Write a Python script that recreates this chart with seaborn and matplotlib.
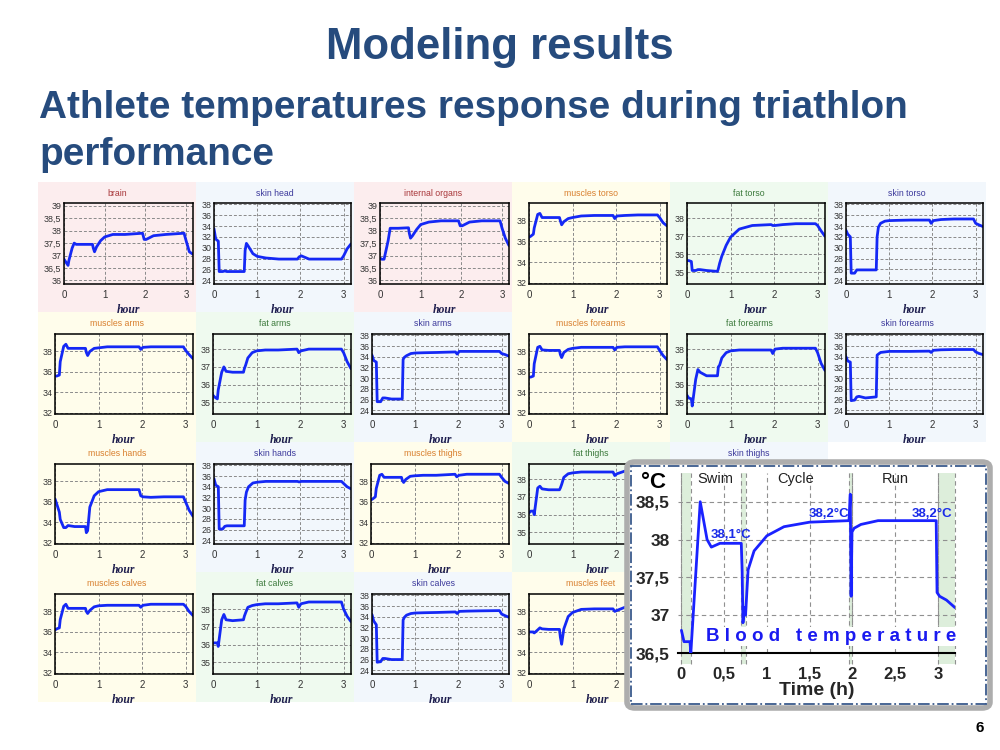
import matplotlib
matplotlib.use("Agg")
import matplotlib.pyplot as plt
import seaborn as sns
from matplotlib.patches import Rectangle, FancyBboxPatch
from matplotlib.ticker import FuncFormatter, MultipleLocator

sns.set_style("white")
plt.rcParams['font.family'] = ['Liberation Sans', 'DejaVu Sans']

# ---------------- data ----------------
hour = [0.0, 0.04, 0.1, 0.12, 0.2, 0.25, 0.3, 0.45, 0.7, 0.72, 0.75, 0.8, 0.9,
        1.0, 1.2, 1.5, 1.93, 1.97, 2.02, 2.2, 2.5, 2.95, 3.0, 3.08, 3.17]
hour_ticks = [0, 1, 2, 3]

brain = [36.85, 36.75, 36.6, 36.8, 37.3, 37.5, 37.45, 37.45, 37.45, 37.3, 37.15, 37.35, 37.6,
         37.75, 37.85, 37.85, 37.9, 37.65, 37.65, 37.8, 37.85, 37.9, 37.6, 37.15, 37.05]
skin_head = [33.5, 31.6, 31.2, 25.6, 25.6, 25.7, 25.6, 25.6, 25.6, 29.5, 30.8, 30.2, 28.9,
             28.4, 28.1, 27.9, 27.9, 28.3, 28.5, 27.9, 27.9, 27.9, 28.5, 29.8, 30.7]
internal_organs = [36.9, 36.85, 36.85, 37.0, 37.6, 38.1, 38.1, 38.1, 38.12, 37.9, 37.7, 37.8, 38.05,
                   38.25, 38.35, 38.4, 38.4, 38.2, 38.2, 38.35, 38.4, 38.4, 38.1, 37.7, 37.4]
muscles_torso = [36.4, 36.5, 36.7, 37.3, 38.6, 38.7, 38.3, 38.3, 38.3, 38.0, 37.6, 37.9, 38.2,
                 38.3, 38.45, 38.5, 38.5, 38.2, 38.45, 38.5, 38.55, 38.55, 38.3, 37.8, 37.5]
fat_torso = [35.65, 35.65, 35.6, 35.1, 35.1, 35.15, 35.15, 35.1, 35.05, 35.2, 35.5, 35.9, 36.5,
             36.95, 37.4, 37.6, 37.65, 37.6, 37.6, 37.65, 37.7, 37.7, 37.6, 37.3, 37.0]
skin_torso = [33.2, 32.5, 32.0, 25.3, 25.3, 25.9, 25.9, 25.9, 25.9, 32.0, 33.8, 34.5, 34.9,
              35.0, 35.05, 35.1, 35.1, 34.5, 35.0, 35.2, 35.3, 35.3, 34.5, 34.2, 33.9]
muscles_arms = [35.6, 35.6, 35.7, 37.0, 38.5, 38.7, 38.3, 38.3, 38.3, 37.9, 37.6, 38.0, 38.3,
                38.35, 38.45, 38.45, 38.45, 38.2, 38.4, 38.45, 38.45, 38.45, 38.1, 37.7, 37.3]
fat_arms = [35.4, 35.3, 35.2, 35.7, 36.7, 37.0, 36.75, 36.7, 36.7, 36.9, 37.1, 37.5, 37.8,
            37.9, 37.95, 37.95, 38.0, 37.8, 37.9, 38.0, 38.0, 38.0, 37.8, 37.3, 36.9]
skin_arms = [34.3, 33.3, 33.0, 25.6, 25.6, 26.3, 26.3, 26.1, 26.1, 33.5, 33.9, 34.2, 34.6,
             34.7, 34.75, 34.8, 34.9, 34.5, 35.0, 35.0, 35.0, 35.0, 34.6, 34.4, 34.1]
muscles_forearms = [35.5, 35.5, 35.6, 36.8, 38.4, 38.5, 38.15, 38.1, 38.1, 37.7, 37.4, 37.9, 38.2,
                    38.3, 38.4, 38.4, 38.4, 38.15, 38.4, 38.45, 38.45, 38.45, 38.1, 37.6, 37.2]
fat_forearms = [35.4, 35.25, 35.2, 34.8, 36.3, 36.85, 36.7, 36.5, 36.5, 37.0, 37.1, 37.5, 37.8,
                37.9, 37.95, 37.95, 37.95, 37.75, 38.0, 38.05, 38.05, 38.05, 37.8, 37.2, 36.8]
skin_forearms = [34.0, 33.2, 33.0, 25.8, 25.9, 26.5, 26.6, 26.3, 26.5, 34.3, 34.5, 34.8, 34.9,
                 35.0, 35.0, 35.0, 35.05, 34.8, 35.2, 35.3, 35.35, 35.35, 34.9, 34.6, 34.4]
muscles_hands = [36.3, 35.8, 35.0, 34.3, 33.5, 33.5, 33.7, 33.6, 33.6, 33.0, 33.2, 35.5, 36.6,
                 37.0, 37.2, 37.2, 37.2, 36.6, 36.5, 36.45, 36.5, 36.5, 36.0, 35.2, 34.6]
skin_hands = [35.5, 34.3, 34.0, 26.1, 26.1, 26.6, 26.7, 26.7, 26.7, 31.5, 33.0, 34.0, 34.7,
              34.85, 35.0, 35.0, 35.0, 34.9, 35.0, 35.0, 35.0, 35.0, 34.6, 34.0, 33.6]
muscles_thighs = [36.2, 36.3, 36.5, 37.3, 38.6, 38.7, 38.4, 38.4, 38.4, 38.1, 37.9, 38.2, 38.5,
                  38.55, 38.6, 38.6, 38.7, 38.45, 38.6, 38.7, 38.7, 38.7, 38.4, 38.0, 37.8]
fat_thighs = [36.1, 36.2, 36.2, 36.0, 37.5, 37.6, 37.45, 37.4, 37.4, 37.5, 37.7, 38.1, 38.3,
              38.35, 38.4, 38.4, 38.4, 38.2, 38.3, 38.45, 38.5, 38.5, 38.2, 37.8, 37.5]
skin_thighs = [34.3, 33.2, 32.6, 25.6, 25.7, 26.2, 26.2, 26.0, 26.0, 33.4, 33.9, 34.3, 34.6,
               34.7, 34.75, 34.8, 34.9, 34.6, 35.0, 35.05, 35.1, 35.1, 34.5, 34.2, 33.9]
muscles_calves = [36.2, 36.3, 36.4, 37.2, 38.5, 38.7, 38.3, 38.3, 38.3, 38.0, 37.8, 38.1, 38.45,
                  38.55, 38.6, 38.6, 38.6, 38.4, 38.6, 38.7, 38.7, 38.7, 38.5, 38.0, 37.6]
fat_calves = [36.1, 36.1, 36.1, 35.9, 37.4, 37.7, 37.4, 37.35, 37.4, 37.6, 37.8, 38.1, 38.2,
              38.25, 38.3, 38.3, 38.35, 38.1, 38.3, 38.4, 38.4, 38.4, 38.0, 37.6, 37.3]
skin_calves = [34.4, 33.2, 32.5, 25.5, 25.6, 26.2, 26.2, 26.0, 26.0, 33.4, 33.9, 34.3, 34.6,
               34.7, 34.75, 34.8, 34.9, 34.6, 35.0, 35.05, 35.1, 35.15, 34.5, 34.2, 33.9]
muscles_feet = [36.0, 36.0, 36.0, 35.9, 36.2, 36.4, 36.3, 36.25, 36.25, 35.5, 34.8, 36.3, 37.5,
                37.9, 38.2, 38.25, 38.25, 38.0, 38.1, 38.4, 38.5, 38.5, 38.2, 37.8, 37.5]

blood_hour = [0.0, 0.03, 0.1, 0.11, 0.22, 0.3, 0.35, 0.45, 0.7, 0.71, 0.72, 0.735, 0.75, 0.78,
              0.85, 1.0, 1.2, 1.5, 1.96, 1.975, 1.985, 1.995, 2.02, 2.1, 2.3, 2.98, 2.99, 3.02,
              3.1, 3.2]
blood_temp = [36.8, 36.65, 36.65, 36.5, 38.5, 38.0, 37.9, 37.95, 37.95, 37.6, 36.9, 37.1, 37.0,
              37.6, 37.85, 38.05, 38.17, 38.23, 38.25, 38.6, 37.25, 38.1, 38.15, 38.2, 38.25,
              38.25, 37.3, 37.25, 37.2, 37.1]
time_ticks = [0, 0.5, 1, 1.5, 2, 2.5, 3]
blood_ticks = [36.5, 37, 37.5, 38, 38.5]

stage_labels = ["Swim", "Cycle", "Run"]
stage_pos = [0.4, 1.33, 2.5]
transition_spans = [(0.0, 0.11), (0.7, 0.76), (1.96, 2.0), (3.0, 3.2)]
plateau_labels = ["38,1°C", "38,2°C", "38,2°C"]
plateau_pos = [(0.58, 38.06), (1.73, 38.34), (2.93, 38.34)]

panels = [
    [("brain", "core", brain), ("skin head", "skin", skin_head),
     ("internal organs", "core", internal_organs), ("muscles torso", "muscle", muscles_torso),
     ("fat torso", "fat", fat_torso), ("skin torso", "skin", skin_torso)],
    [("muscles arms", "muscle", muscles_arms), ("fat arms", "fat", fat_arms),
     ("skin arms", "skin", skin_arms), ("muscles forearms", "muscle", muscles_forearms),
     ("fat forearms", "fat", fat_forearms), ("skin forearms", "skin", skin_forearms)],
    [("muscles hands", "muscle", muscles_hands), ("skin hands", "skin", skin_hands),
     ("muscles thighs", "muscle", muscles_thighs), ("fat thighs", "fat", fat_thighs),
     ("skin thighs", "skin", skin_thighs), None],
    [("muscles calves", "muscle", muscles_calves), ("fat calves", "fat", fat_calves),
     ("skin calves", "skin", skin_calves), ("muscles feet", "muscle", muscles_feet), None, None],
]

# ---------------- styles ----------------
styles = {
    "core":   dict(bg="#FCEDEE", tc="#A8373A", ylim=(35.85, 39.12), ticks=[36, 36.5, 37, 37.5, 38, 38.5, 39], off=26),
    "skin":   dict(bg="#F2F7FC", tc="#3D3A9C", ylim=(23.3, 38.25), ticks=[24, 26, 28, 30, 32, 34, 36, 38], off=18),
    "muscle": dict(bg="#FFFDEB", tc="#D9802F", ylim=(31.9, 39.7), ticks=[32, 34, 36, 38], off=17),
    "fat":    dict(bg="#EFFAEF", tc="#3C7A3C", ylim=(34.35, 38.85), ticks=[35, 36, 37, 38], off=17),
}
line_color = "#1428F5"
W, H = 1000, 750

# inset box in pixels
INSET = (627, 462, 990, 708)


def fr(x0, y0, x1, y1):
    return [x0 / W, 1 - y1 / H, (x1 - x0) / W, (y1 - y0) / H]


comma = FuncFormatter(lambda v, p: ('%g' % v).replace('.', ','))

fig = plt.figure(figsize=(10, 7.5), dpi=100)
fig.patch.set_facecolor("white")

title_c = "#264B7D"
fig.text(0.5, 1 - 48 / H, "Modeling results", ha="center", va="center",
         fontsize=31.5, fontweight="bold", color=title_c)
fig.text(39 / W, 1 - 108 / H, "Athlete temperatures response during triathlon",
         ha="left", va="center", fontsize=27.9, fontweight="bold", color=title_c)
fig.text(39 / W, 1 - 155 / H, "performance", ha="left", va="center",
         fontsize=27.9, fontweight="bold", color=title_c)
fig.text(980 / W, 1 - 728 / H, "6", ha="center", va="center", fontsize=11,
         fontweight="bold", color="black")

cell_x = [38, 196, 354, 512, 670, 828]
cell_w = 158
row_y = [182, 312, 442, 572]
row_h = 130

for r, row in enumerate(panels):
    for c, p in enumerate(row):
        x0, y0 = cell_x[c], row_y[r]
        if p is None:
            continue
        name, kind, vals = p
        st = styles[kind]
        fig.add_artist(Rectangle((x0 / W, 1 - (y0 + row_h) / H), cell_w / W, row_h / H,
                                 transform=fig.transFigure, facecolor=st["bg"],
                                 edgecolor="none", zorder=-5))
        top = y0 + (21 if r == 0 else 22)
        left, right, bottom = x0 + st["off"], x0 + 155, y0 + 102
        ax = fig.add_axes(fr(left, top, right, bottom))
        ax.set_facecolor(st["bg"])
        sns.lineplot(x=hour, y=vals, ax=ax, color=line_color, linewidth=2)
        ax.set_xlim(0, 3.17)
        ax.set_ylim(*st["ylim"])
        ax.set_yticks(st["ticks"])
        ax.yaxis.set_major_formatter(comma)
        ax.set_xticks(hour_ticks)
        ax.xaxis.set_minor_locator(MultipleLocator(0.25))
        ax.grid(True, which="major", linestyle=(0, (3, 2)), color="#8A8A8A", linewidth=0.7)
        ax.tick_params(axis="y", which="major", labelsize=6.4, labelcolor="#333333",
                       length=2, width=0.6, pad=2, direction="in")
        ax.tick_params(axis="x", which="major", labelsize=7, labelcolor="#333333",
                       length=2, width=0.6, pad=4, direction="in")
        ax.tick_params(axis="x", which="minor", length=1.5, width=0.5, direction="in")
        for s in ax.spines.values():
            s.set_color("black")
            s.set_linewidth(1.1)
        ax.set_ylabel("")
        ax.set_xlabel("hour", fontsize=8.5, fontweight="bold", fontstyle="italic",
                      family="Liberation Serif", color="#1E1E4E", labelpad=3)
        # tick labels that fall under the inset box are hidden by it anyway; drop them
        xw = (right - left) / 3.17
        covered = [left + t * xw > INSET[0] - 4 and bottom + 8 > INSET[1] for t in hour_ticks]
        ax.set_xticklabels([("" if cv else str(t)) for t, cv in zip(hour_ticks, covered)])
        if left > INSET[0] and bottom > INSET[1]:
            ax.set_xlabel("")
            ax.set_yticklabels([("" if (top + (st["ylim"][1] - v) / (st["ylim"][1] - st["ylim"][0]) * (bottom - top)) > INSET[1] else comma(v, 0)) for v in st["ticks"]])
        fig.text((x0 + 79) / W, 1 - (y0 + 11) / H, name, ha="center", va="center",
                 fontsize=6.3, color=st["tc"])

# ---------------- inset: blood temperature ----------------
shadow = FancyBboxPatch((INSET[0] / W, 1 - INSET[3] / H), (INSET[2] - INSET[0]) / W,
                        (INSET[3] - INSET[1]) / H,
                        boxstyle="round,pad=0,rounding_size=0.008",
                        transform=fig.transFigure, facecolor="white",
                        edgecolor="#ADADAD", linewidth=4, zorder=15)
fig.add_artist(shadow)
border = Rectangle((631 / W, 1 - 704 / H), (986 - 631) / W, (704 - 466) / H,
                   transform=fig.transFigure, fill=False, edgecolor="#3A5A8C",
                   linewidth=1.3, linestyle="-.", zorder=16)
fig.add_artist(border)

axi = fig.add_axes(fr(678, 473, 955, 653))
axi.set_zorder(20)
axi.set_facecolor("white")
for a, b in transition_spans:
    sp = axi.axvspan(a, b, ymin=-0.06, ymax=1, color="#DDEEDB", zorder=0, lw=0)
    sp.set_clip_on(False)
    for xv in (a, b):
        axi.axvline(xv, ymin=-0.06, ymax=1, color="#909090", linestyle=(0, (4, 3)),
                    linewidth=0.8, clip_on=False, zorder=1)
sns.lineplot(x=blood_hour, y=blood_temp, ax=axi, color="#1A22FF", linewidth=2, zorder=5)
axi.set_xlim(-0.04, 3.2)
axi.set_ylim(36.5, 38.88)
axi.set_xticks(time_ticks)
axi.set_yticks(blood_ticks)
axi.xaxis.set_major_formatter(comma)
axi.yaxis.set_major_formatter(comma)
axi.grid(True, linestyle=(0, (4, 3)), color="#909090", linewidth=0.8)
axi.tick_params(axis="y", labelsize=12.5, length=3, width=0.8, pad=3)
axi.tick_params(axis="x", labelsize=12, length=3, width=0.8, pad=7)
for lab in axi.get_xticklabels() + axi.get_yticklabels():
    lab.set_fontweight("bold")
for k in ("top", "right", "left"):
    axi.spines[k].set_visible(False)
axi.spines["bottom"].set_color("black")
axi.spines["bottom"].set_linewidth(1.5)
axi.set_ylabel("")
axi.set_xlabel("Time (h)", fontsize=14, fontweight="bold", labelpad=0)
for lab, xp in zip(stage_labels, stage_pos):
    axi.text(xp, 38.8, lab, ha="center", va="center", fontsize=10.5, color="#222222", zorder=6)
for lab, (xp, yp) in zip(plateau_labels, plateau_pos):
    axi.text(xp, yp, lab, ha="center", va="center", fontsize=9.5, fontweight="bold",
             color="#1A2BE8", zorder=6)
axi.text(0.29, 36.72, "B l o o d   t e m p e r a t u r e", ha="left", va="center",
         fontsize=13.5, fontweight="bold", color="#1A1AF0", zorder=7,
         bbox=dict(facecolor="white", edgecolor="none", pad=1))
fig.text(653 / W, 1 - 483 / H, "°C", ha="center", va="center", fontsize=16,
         fontweight="bold", color="black", zorder=21)

fig.savefig("out.png", dpi=100)
